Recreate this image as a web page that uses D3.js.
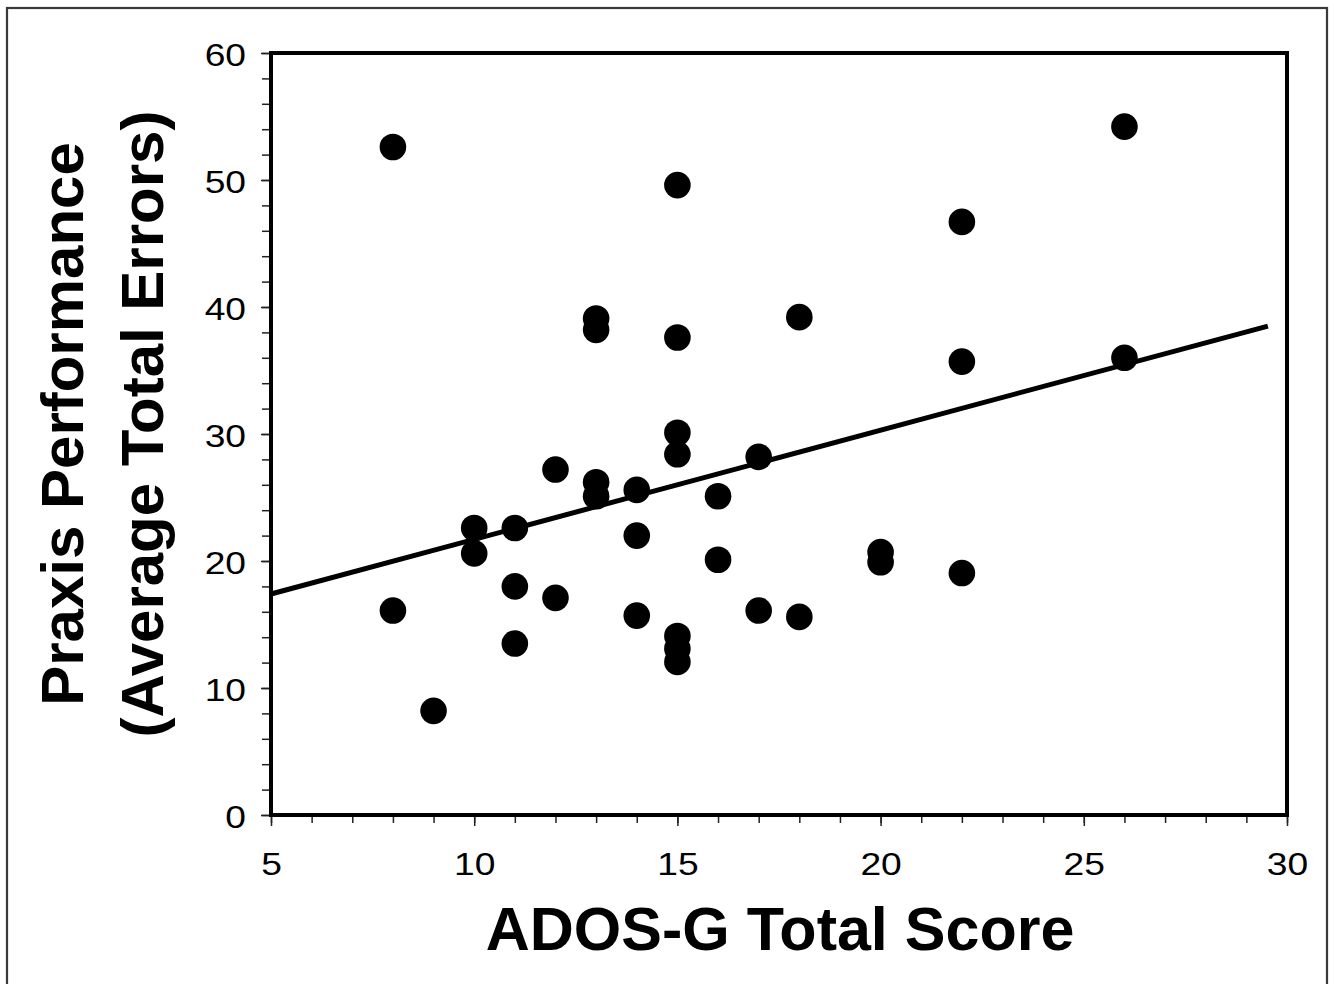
<!DOCTYPE html>
<html>
<head>
<meta charset="utf-8">
<script src="https://cdn.jsdelivr.net/npm/d3@7"></script>
<style>
  html, body { margin: 0; padding: 0; background: #fff; }
  svg { display: block; }
</style>
</head>
<body>
<svg id="chart" width="1334" height="984"></svg>
<script>
// ---- data ----
const adosScores = [8, 8, 9, 10, 10, 11, 11, 11, 12, 12, 13, 13, 13, 13, 14, 14, 14,
  15, 15, 15, 15, 15, 15, 15, 16, 16, 17, 17, 18, 18, 20, 20, 22, 22, 22, 26, 26];
const praxisErrors = [52.6, 16.1, 8.2, 22.6, 20.6, 22.6, 18.0, 13.5, 27.2, 17.1, 39.1, 38.2, 26.2, 25.1, 25.6, 22.0, 15.7,
  49.6, 37.6, 30.1, 28.4, 14.1, 13.1, 12.05, 25.1, 20.1, 28.2, 16.1, 39.2, 15.6, 20.7, 19.9, 46.7, 35.7, 19.05, 54.2, 36.0];
const fitX = [5, 29.53];
const fitY = [17.4, 38.5];
const xTicks = [5, 10, 15, 20, 25, 30];
const yTicks = [0, 10, 20, 30, 40, 50, 60];
const xMinorTicks = d3.range(5, 31, 1);
const yMinorTicks = d3.range(0, 61, 2);
const xTitle = "ADOS-G Total Score";
const yTitleLines = ["Praxis Performance", "(Average Total Errors)"];

// ---- layout ----
const svg = d3.select("#chart");
const plotL = 271, plotR = 1287, plotT = 53, plotB = 815;
const x = d3.scaleLinear().domain([5, 30]).range([plotL, plotR]);
const y = d3.scaleLinear().domain([0, 60]).range([plotB, plotT]);
const font = "'Liberation Sans', Arial, Helvetica, sans-serif";
const stretch = 1.2; // tick labels are horizontally wide in the reference

// outer frame
svg.append("rect")
  .attr("x", 7).attr("y", 8).attr("width", 1320).attr("height", 1000)
  .attr("fill", "none").attr("stroke", "#3a3a3a").attr("stroke-width", 2.2);

// minor ticks
const xMinor = svg.append("g").attr("transform", `translate(0,${plotB})`)
  .call(d3.axisBottom(x).tickValues(xMinorTicks).tickSize(8).tickFormat(""));
xMinor.select(".domain").remove();
xMinor.selectAll("line").attr("stroke", "#222").attr("stroke-width", 1.5);

const yMinor = svg.append("g").attr("transform", `translate(${plotL},0)`)
  .call(d3.axisLeft(y).tickValues(yMinorTicks).tickSize(9).tickFormat(""));
yMinor.select(".domain").remove();
yMinor.selectAll("line").attr("stroke", "#222").attr("stroke-width", 1.5);

// major ticks + labels
const xAxis = svg.append("g").attr("transform", `translate(0,${plotB})`)
  .call(d3.axisBottom(x).tickValues(xTicks).tickSize(11).tickPadding(27));
xAxis.select(".domain").remove();
xAxis.selectAll("line").attr("stroke", "#222").attr("stroke-width", 1.5);
xAxis.selectAll("text")
  .attr("font-family", font).attr("font-size", 31).attr("fill", "#000")
  .attr("transform", `scale(${stretch},1)`);

const yAxis = svg.append("g").attr("transform", `translate(${plotL},0)`)
  .call(d3.axisLeft(y).tickValues(yTicks).tickSize(10).tickPadding(16));
yAxis.select(".domain").remove();
yAxis.selectAll("line").attr("stroke", "#222").attr("stroke-width", 1.5);
yAxis.selectAll("text")
  .attr("font-family", font).attr("font-size", 31).attr("fill", "#000")
  .attr("x", -25 / stretch)
  .attr("dy", "0.4em")
  .attr("transform", `scale(${stretch},1)`);

// plot frame
svg.append("rect")
  .attr("x", x(5)).attr("y", y(60))
  .attr("width", x(30) - x(5)).attr("height", y(0) - y(60))
  .attr("fill", "none").attr("stroke", "#000").attr("stroke-width", 4);

// regression line
svg.append("line")
  .attr("x1", x(fitX[0])).attr("y1", y(fitY[0]))
  .attr("x2", x(fitX[1])).attr("y2", y(fitY[1]))
  .attr("stroke", "#000").attr("stroke-width", 5);

// points
svg.append("g").selectAll("circle")
  .data(adosScores.map((d, i) => [d, praxisErrors[i]]))
  .join("circle")
  .attr("cx", d => x(d[0]))
  .attr("cy", d => y(d[1]))
  .attr("r", 13.3)
  .attr("fill", "#000");

// titles
svg.append("text")
  .attr("x", 780).attr("y", 950)
  .attr("text-anchor", "middle")
  .attr("font-family", font).attr("font-weight", "bold").attr("font-size", 61)
  .text(xTitle);

const yt = svg.append("text")
  .attr("transform", "translate(0,424) rotate(-90)")
  .attr("text-anchor", "middle")
  .attr("font-family", font).attr("font-weight", "bold").attr("font-size", 60);
yt.append("tspan").attr("x", 0).attr("y", 83).text(yTitleLines[0]);
yt.append("tspan").attr("x", 0).attr("y", 163).text(yTitleLines[1]);
</script>
</body>
</html>
